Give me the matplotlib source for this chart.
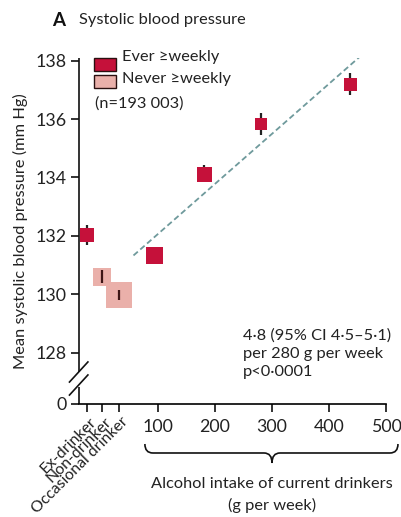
import matplotlib
matplotlib.use("Agg")
import matplotlib.pyplot as plt
import matplotlib.transforms as mtransforms
from matplotlib.path import Path
from matplotlib.patches import PathPatch, Rectangle
import numpy as np

plt.rcParams['font.family'] = ['Lato', 'DejaVu Sans']

# Non-current / never-weekly drinking categories
cat_labels = ["Ex-drinker", "Non-drinker", "Occasional drinker"]
cat_pos = [-25, 2, 32]
cat_sbp = [132.03, 130.60, 129.98]
cat_ci = [0.33, 0.23, 0.18]
cat_group = ["ever", "never", "never"]
cat_size_px = [14, 18, 26]

# Current drinkers by alcohol intake (g per week)
drink_g = [93, 181, 281, 437]
drink_sbp = [131.35, 134.12, 135.83, 137.19]
drink_ci = [0.20, 0.29, 0.37, 0.38]
drink_size_px = [17, 15, 12, 13]

# Trend for current drinkers: 4.8 mm Hg per 280 g per week
trend_slope = 4.8 / 280
trend_intercept = 130.35
trend_range = (57, 468)

y_ticks = [128, 130, 132, 134, 136, 138]
x_ticks = [100, 200, 300, 400, 500]
y_zero_pos = 126.24

DARK = "#C5113A"
PINK = "#EAB0AA"
TXT = "#222222"

fig = plt.figure(figsize=(4.02, 5.17), dpi=100)
ax = fig.add_axes([79 / 402, 1 - 404 / 517, (386 - 79) / 402, (404 - 58) / 517])
ax.set_xlim(-38.6, 500)
ax.set_ylim(y_zero_pos, 138.09)

pt = 72 / 100.0  # points per pixel


def draw_point(x, y, ci, size_px, colour):
    if colour == PINK:
        ax.scatter([x], [y], s=(size_px * pt) ** 2, marker="s", color=colour,
                   linewidths=0, zorder=3)
        ax.errorbar([x], [y], yerr=[ci], fmt="none", ecolor="#3d1515",
                    elinewidth=1.6, capsize=0, zorder=4)
    else:
        ax.errorbar([x], [y], yerr=[ci], fmt="none", ecolor="#222222",
                    elinewidth=1.6, capsize=0, zorder=3)
        ax.scatter([x], [y], s=(size_px * pt) ** 2, marker="s", color=colour,
                   linewidths=0, zorder=4)


for x, y, ci, sz, g in zip(cat_pos, cat_sbp, cat_ci, cat_size_px, cat_group):
    draw_point(x, y, ci, sz, DARK if g == "ever" else PINK)

for x, y, ci, sz in zip(drink_g, drink_sbp, drink_ci, drink_size_px):
    draw_point(x, y, ci, sz, DARK)

tx = np.array(trend_range, dtype=float)
ax.plot(tx, trend_intercept + trend_slope * tx, color="#6F9A9C", lw=1.3,
        dashes=(3.2, 1.8), zorder=2)

# Axes styling
for s in ["top", "right", "left"]:
    ax.spines[s].set_visible(False)
ax.spines["bottom"].set_linewidth(1.2)

yt = [y_zero_pos] + y_ticks
ax.set_yticks(yt)
ax.set_yticklabels(["0"] + [str(v) for v in y_ticks])
ax.set_xticks(cat_pos + x_ticks)
ax.set_xticklabels([""] * len(cat_pos) + [str(v) for v in x_ticks])
ax.tick_params(axis="both", direction="out", length=6, width=1.2,
               labelsize=12.8, color="#111111", labelcolor=TXT)
ax.tick_params(axis="y", pad=3)
ax.tick_params(axis="x", pad=4.5)

# Left spine drawn in two pieces with a break
axis_tr = ax.transAxes
gap_lo, gap_hi = (404 - 387) / 346, (404 - 372) / 346
ax.plot([0, 0], [gap_hi, 1], transform=axis_tr, color="#111111", lw=1.2,
        clip_on=False, solid_capstyle="butt")
ax.plot([0, 0], [0, gap_lo], transform=axis_tr, color="#111111", lw=1.2,
        clip_on=False, solid_capstyle="butt")
for yc in [(404 - 372) / 346, (404 - 385) / 346]:
    ax.plot([-0.031, 0.029], [yc - 0.029, yc + 0.029], transform=axis_tr,
            color="#111111", lw=1.2, clip_on=False)

# Rotated category labels
for x, lab in zip(cat_pos, cat_labels):
    ax.annotate(lab, xy=(x, 0), xycoords=("data", "axes fraction"),
                xytext=(1.5, -7.5), textcoords="offset points",
                rotation=45, rotation_mode="anchor", ha="right", va="top",
                fontsize=11.4, color=TXT)

ax.set_ylabel("Mean systolic blood pressure (mm Hg)", fontsize=11.8,
              color=TXT, labelpad=5)

# Brace under the current-drinker intake range
btr = mtransforms.blended_transform_factory(ax.transData, ax.transAxes)
x0, xm, x1 = 77, 300, 521
ytop, ymid, ytip = -0.1156, -0.1416, -0.1705
r = 14
verts = [(x0, ytop), (x0, ymid), (x0 + r, ymid),
         (xm - r, ymid), (xm, ymid), (xm, ytip),
         (xm, ymid), (xm + r, ymid),
         (x1 - r, ymid), (x1, ymid), (x1, ytop)]
codes = [Path.MOVETO, Path.CURVE3, Path.CURVE3,
         Path.LINETO, Path.CURVE3, Path.CURVE3,
         Path.CURVE3, Path.CURVE3,
         Path.LINETO, Path.CURVE3, Path.CURVE3]
ax.add_patch(PathPatch(Path(verts, codes), transform=btr, fill=False,
                       lw=1.2, edgecolor="#111111", clip_on=False))
ax.text(xm, -0.21, "Alcohol intake of current drinkers\n(g per week)",
        transform=btr, ha="center", va="top", fontsize=11.8,
        color=TXT, linespacing=1.62)

# Estimate annotation
fig.text(243 / 402, 1 - 328 / 517,
         "4·8 (95% CI 4·5–5·1)\nper 280 g per week\np<0·0001",
         ha="left", va="top", fontsize=11.8, color=TXT, linespacing=1.4)

# Title
fig.text(52 / 402, 1 - 20 / 517, "A", fontsize=13.5, fontweight="bold",
         ha="left", va="center", color="#111111")
fig.text(79 / 402, 1 - 20 / 517, "Systolic blood pressure", fontsize=11.8,
         ha="left", va="center", color=TXT)

# Legend
legend_rows = [(DARK, "Ever ≥weekly", 57, 64), (PINK, "Never ≥weekly", 79, 81)]
for col, lab, ytext, ybox in legend_rows:
    fig.patches.append(Rectangle((94 / 402, 1 - (ybox + 7) / 517), 22 / 402, 13 / 517,
                                 transform=fig.transFigure, facecolor=col,
                                 edgecolor="#2a1010", lw=1.0))
    fig.text(122 / 402, 1 - ytext / 517, lab, fontsize=11.8, ha="left",
             va="center", color=TXT)
fig.text(95 / 402, 1 - 104 / 517, "(n=193 003)", fontsize=11.8, ha="left",
         va="center", color=TXT)

fig.savefig("out.png", dpi=100)
